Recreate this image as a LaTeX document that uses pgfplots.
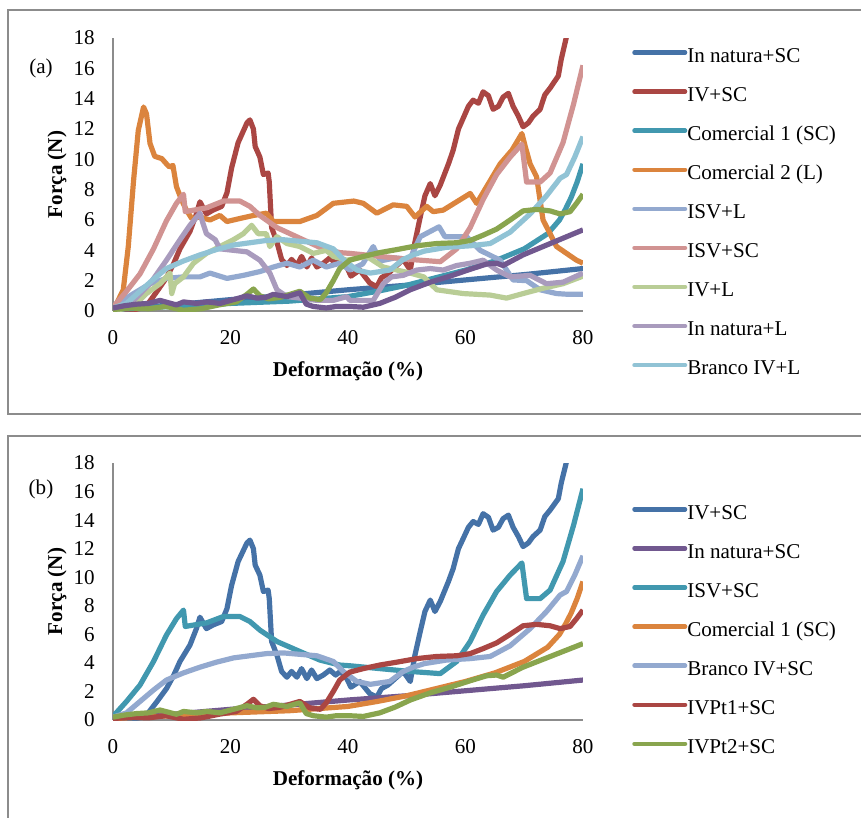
\documentclass[border=0pt]{standalone}
\usepackage{fontspec}
\setmainfont{Liberation Serif}
\usepackage{pgfplots}
\pgfplotsset{compat=1.18}
\usepackage{pgfplotstable}

\definecolor{cBlue}{HTML}{4572A7}
\definecolor{cRed}{HTML}{AA4643}
\definecolor{cGreen}{HTML}{89A54E}
\definecolor{cPurple}{HTML}{71588F}
\definecolor{cTeal}{HTML}{4198AF}
\definecolor{cOrange}{HTML}{DB843D}
\definecolor{cLBlue}{HTML}{93A9CF}
\definecolor{cPink}{HTML}{D19392}
\definecolor{cLGreen}{HTML}{B9CD96}
\definecolor{cLav}{HTML}{A99BBD}
\definecolor{cCyan}{HTML}{91C3D5}
\definecolor{axisgray}{HTML}{8C8C8C}
\definecolor{framegray}{HTML}{8C8C8C}

\pgfplotstableread{
x y
0 0
3 0.05
5 0.2
6 0.5
7.5 1.3
9.1 2.2
10.3 3.1
11.4 4.1
13.1 5.25
14.2 6.4
14.8 7.2
15.9 6.4
17.0 6.65
18.5 6.9
19.4 7.8
20.2 9.45
21.3 11.1
22.8 12.4
23.3 12.6
23.9 12.0
24.2 10.85
25.0 10.15
25.6 9.0
26.4 9.1
26.6 8.5
27.0 5.5
27.9 4.55
28.7 3.4
29.6 3.0
30.4 3.4
31.3 3.0
32.1 3.6
33.0 2.9
33.8 3.5
34.7 2.9
35.8 3.15
36.9 3.5
37.9 3.15
38.7 3.4
39.8 2.9
40.5 2.3
42.0 2.7
43.7 1.85
44.9 1.6
45.7 2.2
46.8 2.45
48.3 3.0
49.4 3.4
50.6 2.7
51.4 4.55
52.3 6.2
53.1 7.6
54.0 8.4
54.8 7.6
55.7 8.3
57.1 9.7
57.9 10.6
58.8 12.0
59.6 12.7
60.5 13.5
61.3 13.9
62.2 13.7
63.0 14.45
63.9 14.2
64.7 13.3
65.6 13.5
66.4 14.1
67.3 14.35
68.1 13.5
69.0 12.85
69.8 12.15
70.7 12.4
71.5 12.85
72.7 13.3
73.5 14.25
74.4 14.7
75.8 15.5
76.3 16.6
77.2 18.1
77.8 19.5
}\tIVSC

\pgfplotstableread{
x y
0 0.25
2.3 1.3
4.6 2.45
6.9 4.1
9.1 5.95
10.8 7.1
12.0 7.7
12.3 6.55
13.7 6.65
15.9 6.8
18.8 7.25
21.6 7.25
23.3 6.9
25.0 6.3
27.9 5.5
31.8 4.8
35.2 4.2
38.6 3.85
40.3 3.8
45.4 3.6
50.6 3.4
55.7 3.25
58.5 4.1
60.8 5.5
63.0 7.35
65.3 9.0
67.6 10.15
69.6 11.0
70.4 8.5
72.7 8.5
74.4 9.1
76.6 11.1
78.4 13.65
80 16.2
}\tISVSC

\pgfplotstableread{
x y
0 0.2
2.3 0.5
4.6 1.3
6.9 2.1
9.1 2.8
12.0 3.3
14.8 3.7
17.6 4.05
20.5 4.35
23.3 4.5
26.1 4.65
29.0 4.7
31.8 4.6
34.7 4.5
37.5 4.1
39.2 3.4
41.5 2.7
43.8 2.5
47.1 2.7
49.4 3.4
51.1 3.7
53 3.95
56.8 4.2
60.8 4.3
64.2 4.45
67.6 5.2
71.0 6.4
73.8 7.6
76.1 8.75
77.2 9.0
78.6 10.15
80 11.5
}\tBranco

\pgfplotstableread{
x y
0 0.1
3 0.2
6 0.15
9 0.3
12 0.05
15 0.15
18 0.4
21 0.6
22.8 1.1
23.9 1.45
25 1.0
26.5 0.8
28.5 0.9
31.8 1.3
33.5 0.85
35.3 0.75
36.3 1.2
37.5 2.0
38.6 2.8
40.3 3.35
42.6 3.6
45.4 3.85
48.3 4.05
51.7 4.3
55.1 4.45
58.5 4.5
60.8 4.65
63.0 5.0
65.3 5.4
67.6 6.0
69.8 6.6
72.1 6.7
74.4 6.6
76.1 6.4
77.8 6.55
78.9 7.1
80 7.7
}\tPtOne

\pgfplotstableread{
x y
0 0.2
2 0.35
4 0.45
6 0.5
8 0.7
10.8 0.4
12 0.6
14.2 0.5
16 0.6
18.2 0.5
20.5 0.75
22.8 1.0
24.5 0.85
26 0.9
27.3 1.1
29.6 0.95
31.8 1.2
32.9 0.45
34.1 0.3
36.3 0.2
38 0.3
40.3 0.3
42.6 0.25
45.4 0.5
48 0.9
50.6 1.4
54.0 1.9
57.4 2.3
60.8 2.75
63.6 3.1
65.3 3.15
66.4 3.0
69.8 3.7
73.2 4.25
76.6 4.8
80 5.35
}\tPtTwo

\pgfplotstableread{
x y
0 0.1
10 0.4
20 0.75
30 1.05
40 1.4
50 1.7
60 2.05
70 2.4
80 2.8
}\tNatSC

\pgfplotstableread{
x y
0 0.1
10 0.3
20 0.5
30 0.65
40 0.95
45 1.3
50 1.7
55 2.2
60 2.7
65 3.3
70 4.1
72 4.6
74 5.1
76 6.0
77 6.7
78 7.5
79 8.5
80 9.7
}\tComUm

\pgfplotstableread{
x y
0 0
1.75 1.4
2.6 4.25
3.5 8.6
4.3 11.9
5.2 13.45
5.7 13.0
6.3 11.05
7.1 10.2
8.3 10.05
9.1 9.7
9.6 9.5
10.2 9.6
10.8 8.2
11.7 7.3
12.5 6.65
13.4 6.1
14.8 6.2
16.5 6.0
18.2 6.3
19.4 5.9
21.6 6.1
23.9 6.3
26.1 6.45
27.3 5.9
29.6 5.9
31.8 5.9
34.7 6.3
37.5 7.1
39.8 7.2
41 7.25
42.6 7.1
44.9 6.45
47.7 7.0
50.0 6.9
51.4 6.2
53.4 6.9
54.5 6.55
56.2 6.65
58.5 7.2
60.8 7.75
61.9 7.1
63.6 8.2
65.9 9.7
67.9 10.6
69.6 11.7
70.2 10.8
71.0 9.7
72.1 8.85
73.2 6.0
74.4 5.1
75.5 4.25
77.2 3.8
78.9 3.35
80 3.15
}\tComDois

\pgfplotstableread{
x y
0 0.3
3.5 1.15
6.3 1.8
9.1 2.15
12.0 2.25
14.8 2.25
16.5 2.5
19.4 2.15
22.2 2.35
25.0 2.6
27.3 2.9
29.6 3.15
31.8 2.9
34.1 3.35
36.3 2.9
38.6 3.15
40.3 2.7
42.5 3.1
44.3 4.25
45.5 3.3
48 3.5
50.5 3.4
52.3 4.9
54.5 5.35
55.5 5.55
56.5 4.9
58.5 4.9
60.2 4.9
62.5 4.0
65.9 3.35
68.1 2.05
70.4 2.0
72.7 1.4
75.5 1.15
77.5 1.1
80 1.1
}\tISVL

\pgfplotstableread{
x y
0 0
3.5 0.3
5.7 1.15
8.0 1.8
9.7 2.5
10.0 1.15
10.5 1.8
12.0 2.25
13.7 3.15
15.9 3.8
18.2 4.25
20.5 4.7
22.2 5.1
23.6 5.65
24.7 5.1
26.1 5.1
26.7 4.25
27.9 4.9
29.6 4.45
31.8 4.25
34.1 3.8
36.3 4.0
37.5 3.6
39.8 3.35
43.2 3.6
46.0 2.9
48.3 2.7
50.6 2.5
52.9 2.25
55.1 1.4
59.6 1.15
64.2 1.05
67.0 0.85
69.8 1.15
73.2 1.5
76.6 1.8
80 2.3
}\tIVL

\pgfplotstableread{
x y
0 0
3.5 0.7
6.3 1.8
9.1 3.35
11.4 4.7
13.1 5.65
14.8 6.45
15.3 5.8
15.9 5.1
17.4 4.7
18.2 4.1
20.5 4.0
22.8 3.9
25.0 3.35
26.7 2.5
27.9 1.4
29.6 0.95
31.8 0.85
34.7 0.7
37.5 0.7
39.8 0.95
40.3 0.7
44.3 0.7
46.0 1.8
47.4 2.25
49.4 2.35
51.7 2.7
54.0 2.8
56.2 2.7
58.5 3.0
60.8 3.15
63.0 3.35
65.3 2.7
67.6 2.25
71.0 2.35
73.8 1.8
76.6 1.9
80 2.5
}\tNatL

\pgfplotsset{
  panel/.style={
    scale only axis, width=352.5pt,
    xmin=0, xmax=80, ymin=0, ymax=18,
    axis lines*=left,
    axis line style={draw=axisgray, line width=1.2pt},
    xtick={0,20,...,80}, ytick={0,2,...,18},
    major tick length=0pt,
    tick label style={font=\fontsize{15.8}{19}\selectfont},
    /pgf/number format/assume math mode=true,
    xticklabel style={anchor=north, inner sep=0pt, yshift=-14.6pt},
    yticklabel style={anchor=east, inner sep=0pt, xshift=-13.5pt},
    label style={font=\bfseries\fontsize{15.8}{19}\selectfont},
    xlabel={Deformação (\%)}, ylabel={Força (N)},
    ylabel style={at={(axis description cs:-0.119,0.5)}, anchor=center},
    every axis plot/.append style={line width=3.9pt, line join=round, no markers},
    legend cell align=left,
    legend image code/.code={\draw[##1, line width=3.3pt, line cap=round] (1.65pt,3.5pt) -- (39.6pt,3.5pt);},
    legend style={draw=none, fill=none, inner sep=0pt, row sep=14.8pt,
      nodes={inner sep=0pt, text height=11pt, text depth=3.5pt},
      font=\fontsize{15.8}{19}\selectfont,
      /tikz/every even column/.append style={column sep=4.5pt}},
  }
}

\begin{document}
\begin{tikzpicture}
\draw[framegray, line width=1.4pt] (6pt,-7.5pt) rectangle (700pt,-310.5pt);
\draw[framegray, line width=1.4pt] (6pt,-327pt) rectangle (700pt,-700pt);
\node[font=\fontsize{15.8}{19}\selectfont] at (30.75pt,-51pt) {(a)};
\node[font=\fontsize{15.8}{19}\selectfont] at (30.75pt,-366.75pt) {(b)};

\begin{axis}[panel, height=204.75pt, at={(84.75pt,-233.25pt)}, anchor=south west,
  xlabel style={at={(axis description cs:0.5,-0.22)}, anchor=center},
  legend style={at={(axis description cs:1.1043,0.966)}, anchor=north west}]
\addplot[cBlue] table {\tNatSC};
\addlegendentry{In natura+SC}
\addplot[cRed] table {\tIVSC};
\addlegendentry{IV+SC}
\addplot[cTeal] table {\tComUm};
\addlegendentry{Comercial 1 (SC)}
\addplot[cOrange] table {\tComDois};
\addlegendentry{Comercial 2 (L)}
\addplot[cLBlue] table {\tISVL};
\addlegendentry{ISV+L}
\addplot[cPink] table {\tISVSC};
\addlegendentry{ISV+SC}
\addplot[cLGreen] table {\tIVL};
\addlegendentry{IV+L}
\addplot[cLav] table {\tNatL};
\addlegendentry{In natura+L}
\addplot[cCyan] table {\tBranco};
\addlegendentry{Branco IV+L}
\addplot[cGreen, forget plot] table {\tPtOne};
\addplot[cPurple, forget plot] table {\tPtTwo};
\end{axis}

\begin{axis}[panel, height=192.75pt, at={(84.75pt,-540pt)}, anchor=south west,
  xlabel style={at={(axis description cs:0.5,-0.233)}, anchor=center},
  legend style={at={(axis description cs:1.1043,0.840)}, anchor=north west}]
\addplot[cBlue] table {\tIVSC};
\addlegendentry{IV+SC}
\addplot[cPurple] table {\tNatSC};
\addlegendentry{In natura+SC}
\addplot[cTeal] table {\tISVSC};
\addlegendentry{ISV+SC}
\addplot[cOrange] table {\tComUm};
\addlegendentry{Comercial 1 (SC)}
\addplot[cLBlue] table {\tBranco};
\addlegendentry{Branco IV+SC}
\addplot[cRed] table {\tPtOne};
\addlegendentry{IVPt1+SC}
\addplot[cGreen] table {\tPtTwo};
\addlegendentry{IVPt2+SC}
\end{axis}

\pgfresetboundingbox
\path (0,0) rectangle (645.75pt,-613.5pt);
\end{tikzpicture}
\end{document}
